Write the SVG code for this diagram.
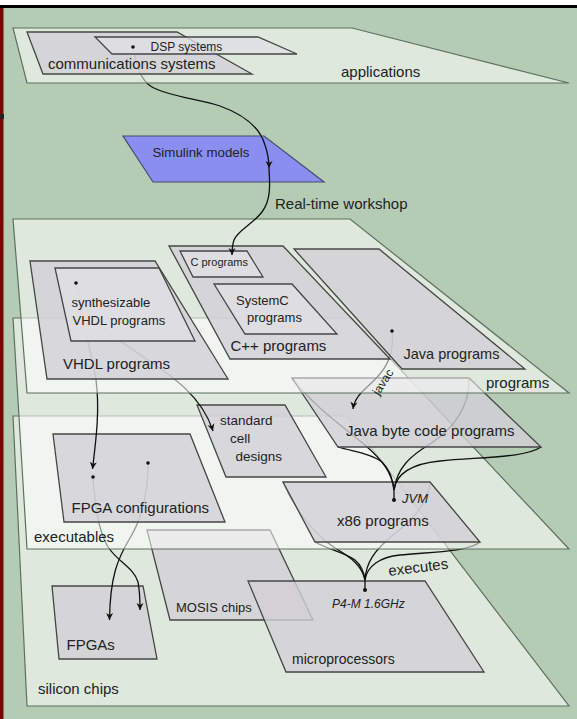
<svg xmlns="http://www.w3.org/2000/svg" width="577" height="719" viewBox="0 0 577 719">
<defs>
<style>
.plane{fill:#ffffff;fill-opacity:.55;stroke:#5f705f;stroke-width:1.2}
.node{fill:#d2d0d6;fill-opacity:.8;stroke:#454545;stroke-width:1.3}
.inner{fill:#e0dfe3;fill-opacity:.8;stroke:#454545;stroke-width:1.3}
.conn{fill:none;stroke:#111;stroke-width:1.3}
.dot{fill:#111}
text{font-family:"Liberation Sans",Arial,sans-serif;fill:#222}
.l15{font-size:15px}
.l13{font-size:13px}
.it{font-style:italic}
</style>
<marker id="arr" markerWidth="10" markerHeight="10" viewBox="-8 -5 10 10" refX="0" refY="0" orient="auto" markerUnits="userSpaceOnUse"><path d="M-7,-3.5 L0,0 L-7,3.5 L-5,0 Z" fill="#111"/></marker>
</defs>
<rect x="0" y="5" width="577" height="3" fill="#000"/>
<rect x="0" y="8" width="577" height="711" fill="#b5ccb4"/>
<rect x="0" y="8" width="3.5" height="711" fill="#7a0606"/>
<rect x="0" y="114" width="4" height="5" fill="#222"/>

<g id="plane-silicon"><polygon class="plane" points="13,416 347,416 569,706 27,706"/><text class="l15" x="38" y="693.5">silicon chips</text></g>
<g id="node-fpgas"><polygon class="node" points="52,586 143,586 157,659 59,659"/><text class="l15" x="66.5" y="650">FPGAs</text></g>
<g id="node-mosis"><polygon class="node" points="147,530 270,530 313,620 170,620"/><text class="l13" x="176" y="612">MOSIS chips</text></g>
<g id="node-micro"><polygon class="node" points="248,581 425,581 484,672 286,672"/><text x="292" y="664" font-size="14">microprocessors</text><text class="it" x="332" y="607.5" font-size="12">P4-M 1.6GHz</text></g>

<g id="connectors-exec-silicon">
<path class="conn" d="M93,477 C95,505 98,530 108,547 C118,562 134,568 138,582 C140,592 140,600 140,610" marker-end="url(#arr)"/>
<path class="conn" d="M148,463 C148,495 141,520 130,538 C118,558 110,576 109.5,620" marker-end="url(#arr)"/>
<path class="conn" d="M283,482 C295,510 315,535 335,548 C352,558 362,566 365,580"/>
<path class="conn" d="M315,542 C330,550 345,553 355,560 C362,566 364,572 365,580"/>
<path class="conn" d="M430,482 C428,505 410,522 393,535 C375,550 366,562 365,580"/>
<path class="conn" d="M480,542 C468,552 430,552 400,555 C380,557 367,566 365,580"/>
<path class="conn" d="M365,578 L365,590" stroke-width="2.2"/>
<circle class="dot" cx="365" cy="590" r="2"/>
<text class="l15" transform="translate(389,576) rotate(-7)">executes</text>
</g>

<g id="plane-executables"><polygon class="plane" points="13,318 352,318 569,549 27,549"/><text class="l15" x="34" y="541.5">executables</text></g>
<g id="node-x86"><polygon class="node" points="283,482 430,482 480,542 315,542"/><text class="l15" x="337" y="525.5">x86 programs</text><text class="it" x="402" y="503" font-size="13">JVM</text></g>

<g id="connectors-jvm">
<path class="conn" d="M292,378 C315,408 345,428 365,445 C382,460 392,472 394,490"/>
<path class="conn" d="M338,447 C355,452 372,454 382,462 C390,470 393,480 394,490"/>
<path class="conn" d="M469,378 C470,405 455,428 430,444 C410,456 397,468 394,490"/>
<path class="conn" d="M541,447 C525,458 480,457 440,461 C410,464 396,475 394,490"/>
<path class="conn" d="M394,488 L394,500" stroke-width="2.2"/>
<circle class="dot" cx="394" cy="500" r="2"/>
</g>

<g id="node-fpgaconf"><polygon class="node" points="53,434 190,434 225,522 64,522"/><text class="l15" x="71.5" y="513">FPGA configurations</text></g>
<g id="node-stdcell"><polygon class="node" points="197,405 285,405 326,477 226,477"/><text x="220" y="424.5" font-size="13.5">standard</text><text x="230" y="442.5" font-size="13.5">cell</text><text x="235.5" y="461" font-size="13.5">designs</text></g>
<g id="node-bytecode"><polygon class="node" points="292,378 469,378 541,447 338,447"/><text class="l15" x="346" y="435.5">Java byte code programs</text></g>

<g id="connectors-prog-exec">
<path class="conn" d="M76,283 C80,318 92,352 96,380 C100,410 96,440 92.5,469" marker-end="url(#arr)"/>
<path class="conn" d="M76,283 C82,318 112,335 142,356 C172,376 202,396 213,431" marker-end="url(#arr)"/>
<path class="conn" d="M392,331 C394,348 390,362 380,374 C368,388 355,394 353,409" marker-end="url(#arr)"/>
<circle class="dot" cx="93" cy="477" r="1.8"/>
<circle class="dot" cx="148" cy="463" r="1.8"/>
</g>

<g id="plane-programs"><polygon class="plane" points="13,219 350,219 569,393 27,393"/><text class="l15" x="486" y="387.5">programs</text></g>
<text transform="translate(383,382) rotate(-57)" text-anchor="middle" font-size="12" y="4" fill="#3a3a3a">javac</text>
<g id="node-vhdl"><polygon class="node" points="30,261 155,261 228,379 47,379"/><text class="l15" x="63" y="368.5">VHDL programs</text></g>
<g id="node-synth"><polygon class="inner" points="55,268 159,268 195,341 71,341"/><text class="l13" x="71.5" y="307">synthesizable</text><text class="l13" x="72.5" y="324.5">VHDL programs</text><circle class="dot" cx="76" cy="283" r="1.8"/></g>
<g id="node-cpp"><polygon class="node" points="169,246 283,246 390,359 230,359"/><text class="l15" x="230.5" y="351">C++ programs</text></g>
<g id="node-c"><polygon class="inner" points="180,251 247,251 263,277 193,277"/><text x="190.5" y="266" font-size="11">C programs</text></g>
<g id="node-systemc"><polygon class="inner" points="214,284 292,284 337,334 245,334"/><text class="l13" x="236" y="304.5">SystemC</text><text class="l13" x="247" y="322">programs</text></g>
<g id="node-java"><polygon class="node" points="294,249 379,249 525,369 402,369"/><text x="403.5" y="358.5" font-size="14.5">Java programs</text><circle class="dot" cx="392" cy="331" r="1.8"/></g>

<g id="node-simulink"><polygon points="123,136 264,136 324,182 153,182" fill="#8a8ef0" stroke="#4b4b6b" stroke-width="1.2"/><text x="152.5" y="156.5" font-size="13.3">Simulink models</text></g>

<g id="connectors-top">
<path class="conn" d="M133,47 C137,66 140,80 152,87 C170,97 200,99 220,106 C245,115 260,128 265,145 C268,154 269,161 269,168" marker-end="url(#arr)"/>
<path class="conn" d="M269,168 C270,185 271,200 262,212 C252,225 238,230 234,240 C232,246 232,250 232,255" marker-end="url(#arr)"/>
<text class="l15" x="275" y="208.5">Real-time workshop</text>
</g>

<g id="plane-applications"><polygon class="plane" points="13,28 352,28 569,83 27,83"/><text class="l15" x="341" y="76.5">applications</text></g>
<g id="node-comms"><polygon class="node" points="27,32 177,32 252,74 43,74"/><text class="l15" x="48" y="68.5">communications systems</text></g>
<g id="node-dsp"><polygon class="inner" points="95,37 258,37 297,54 112,54"/><text x="150.5" y="51" font-size="12">DSP systems</text><circle class="dot" cx="133" cy="47" r="1.8"/></g>
</svg>
